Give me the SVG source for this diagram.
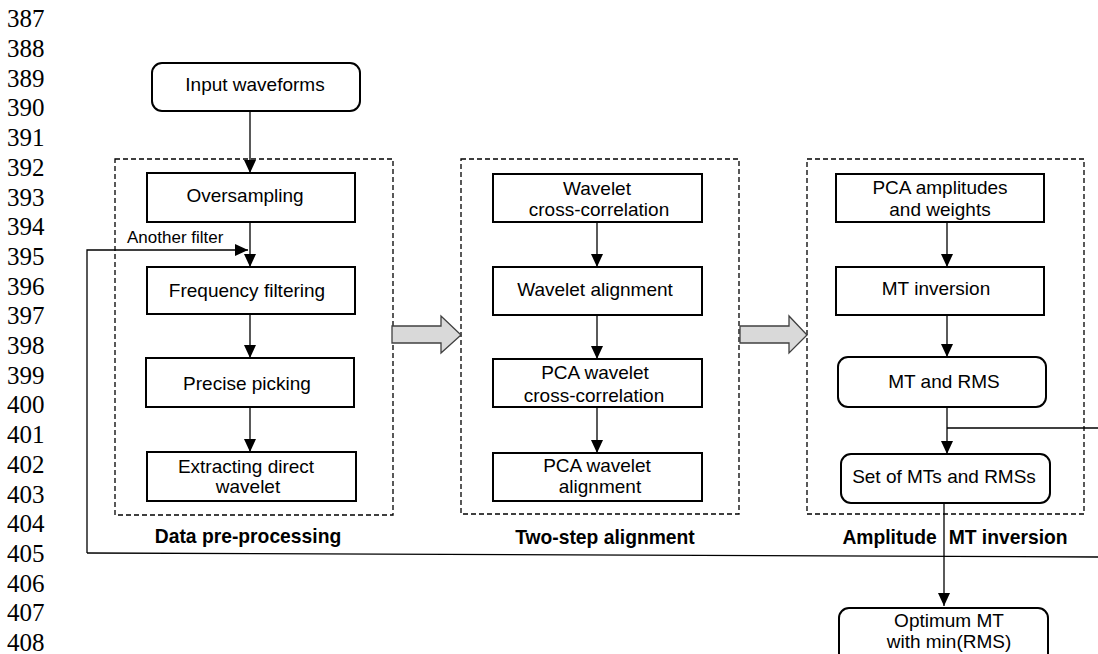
<svg xmlns="http://www.w3.org/2000/svg" width="1098" height="654" viewBox="0 0 1098 654">
<style>
.ln{font-family:"Liberation Serif",serif;font-size:25px;fill:#000}
.t{font-family:"Liberation Sans",Arial,sans-serif;font-size:19px;fill:#000;text-anchor:middle}
.s{font-family:"Liberation Sans",Arial,sans-serif;font-size:17px;fill:#000}
.b{font-family:"Liberation Sans",Arial,sans-serif;font-size:19.3px;font-weight:bold;fill:#000;text-anchor:middle}
.box{fill:#fff;stroke:#000;stroke-width:2}
.dash{fill:none;stroke:#000;stroke-width:1.3;stroke-dasharray:5 3}
.c{fill:none;stroke:#000;stroke-width:1.3}
.big{fill:#d9d9d9;stroke:#404040;stroke-width:1.3}
</style>
<defs>
<marker id="ah" markerUnits="userSpaceOnUse" markerWidth="14" markerHeight="14" viewBox="0 0 14 14" refX="13" refY="7" orient="auto">
<path d="M0,1 L13,7 L0,13 Z" fill="#000"/>
</marker>
</defs>
<rect width="1098" height="654" fill="#fff"/>
<g id="line-numbers">
<text class="ln" x="7" y="27.3">387</text>
<text class="ln" x="7" y="57">388</text>
<text class="ln" x="7" y="86.7">389</text>
<text class="ln" x="7" y="116.4">390</text>
<text class="ln" x="7" y="146.1">391</text>
<text class="ln" x="7" y="175.8">392</text>
<text class="ln" x="7" y="205.5">393</text>
<text class="ln" x="7" y="235.2">394</text>
<text class="ln" x="7" y="264.9">395</text>
<text class="ln" x="7" y="294.6">396</text>
<text class="ln" x="7" y="324.3">397</text>
<text class="ln" x="7" y="354">398</text>
<text class="ln" x="7" y="383.7">399</text>
<text class="ln" x="7" y="413.4">400</text>
<text class="ln" x="7" y="443.1">401</text>
<text class="ln" x="7" y="472.8">402</text>
<text class="ln" x="7" y="502.5">403</text>
<text class="ln" x="7" y="532.2">404</text>
<text class="ln" x="7" y="561.9">405</text>
<text class="ln" x="7" y="591.6">406</text>
<text class="ln" x="7" y="621.3">407</text>
<text class="ln" x="7" y="650.8">408</text>
</g>
<g id="group-preprocessing">
<rect class="dash" x="115" y="159" width="278" height="356"/>
<text class="b" x="248" y="543">Data pre-processing</text>
</g>
<g id="group-alignment">
<rect class="dash" x="461" y="159" width="278" height="355"/>
<text class="b" x="605" y="544">Two-step alignment</text>
</g>
<g id="group-inversion">
<rect class="dash" x="807" y="159" width="277" height="355"/>
<text class="b" x="955" y="544">Amplitude<tspan dx="12">MT inversion</tspan></text>
</g>
<g id="connectors">
<line class="c" x1="250" y1="111" x2="250" y2="173" marker-end="url(#ah)"/>
<line class="c" x1="250" y1="222" x2="250" y2="267" marker-end="url(#ah)"/>
<line class="c" x1="250" y1="314" x2="250" y2="358" marker-end="url(#ah)"/>
<line class="c" x1="250" y1="407" x2="250" y2="452" marker-end="url(#ah)"/>
<line class="c" x1="597" y1="222" x2="597" y2="267" marker-end="url(#ah)"/>
<line class="c" x1="597" y1="315" x2="597" y2="359" marker-end="url(#ah)"/>
<line class="c" x1="597" y1="407" x2="597" y2="453" marker-end="url(#ah)"/>
<line class="c" x1="947" y1="222" x2="947" y2="267" marker-end="url(#ah)"/>
<line class="c" x1="947" y1="315" x2="947" y2="357" marker-end="url(#ah)"/>
<line class="c" x1="947" y1="407" x2="947" y2="454" marker-end="url(#ah)"/>
<line class="c" x1="944" y1="503" x2="944" y2="606" marker-end="url(#ah)"/>
<path class="c" d="M87,553 L87,250 L248,250" marker-end="url(#ah)"/>
<line class="c" x1="87" y1="553" x2="1098" y2="557"/>
<line class="c" x1="947" y1="428" x2="1098" y2="428"/>
<path class="big" d="M392,326 L441,326 L441,316 L461,335 L441,353 L441,343 L392,343 Z"/>
<path class="big" d="M740,326 L789,326 L789,316 L807,335 L789,353 L789,343 L740,343 Z"/>
<text class="s" x="127" y="243">Another filter</text>
</g>
<g id="input-waveforms">
<rect class="box" x="152" y="63" width="208" height="48" rx="10"/>
<text class="t" x="255" y="91">Input waveforms</text>
</g>
<g id="oversampling">
<rect class="box" x="147" y="173" width="208" height="49"/>
<text class="t" x="245" y="202">Oversampling</text>
</g>
<g id="frequency-filtering">
<rect class="box" x="147" y="267" width="208" height="47"/>
<text class="t" x="247" y="297">Frequency filtering</text>
</g>
<g id="precise-picking">
<rect class="box" x="146" y="358" width="208" height="49"/>
<text class="t" x="247" y="390">Precise picking</text>
</g>
<g id="extracting">
<rect class="box" x="147" y="452" width="209" height="49"/>
<text class="t" x="246" y="473">Extracting direct</text>
<text class="t" x="248" y="493">wavelet</text>
</g>
<g id="wavelet-xcorr">
<rect class="box" x="493" y="174" width="209" height="48"/>
<text class="t" x="597" y="195">Wavelet</text>
<text class="t" x="599" y="216">cross-correlation</text>
</g>
<g id="wavelet-alignment">
<rect class="box" x="493" y="267" width="209" height="48"/>
<text class="t" x="595" y="296">Wavelet alignment</text>
</g>
<g id="pca-xcorr">
<rect class="box" x="493" y="359" width="209" height="48"/>
<text class="t" x="595" y="379">PCA wavelet</text>
<text class="t" x="594" y="402">cross-correlation</text>
</g>
<g id="pca-alignment">
<rect class="box" x="493" y="453" width="209" height="48"/>
<text class="t" x="597" y="472">PCA wavelet</text>
<text class="t" x="600" y="493">alignment</text>
</g>
<g id="pca-amplitudes">
<rect class="box" x="836" y="174" width="208" height="48"/>
<text class="t" x="940" y="194">PCA amplitudes</text>
<text class="t" x="940" y="216">and weights</text>
</g>
<g id="mt-inversion">
<rect class="box" x="836" y="267" width="208" height="48"/>
<text class="t" x="936" y="295">MT inversion</text>
</g>
<g id="mt-rms">
<rect class="box" x="838" y="357" width="208" height="50" rx="10"/>
<text class="t" x="944" y="388">MT and RMS</text>
</g>
<g id="set-mts">
<rect class="box" x="841" y="454" width="209" height="49" rx="10"/>
<text class="t" x="944" y="483">Set of MTs and RMSs</text>
</g>
<g id="optimum-mt">
<rect class="box" x="839" y="608" width="209" height="60" rx="10"/>
<text class="t" x="949" y="627">Optimum MT</text>
<text class="t" x="949" y="648">with min(RMS)</text>
</g>
</svg>
